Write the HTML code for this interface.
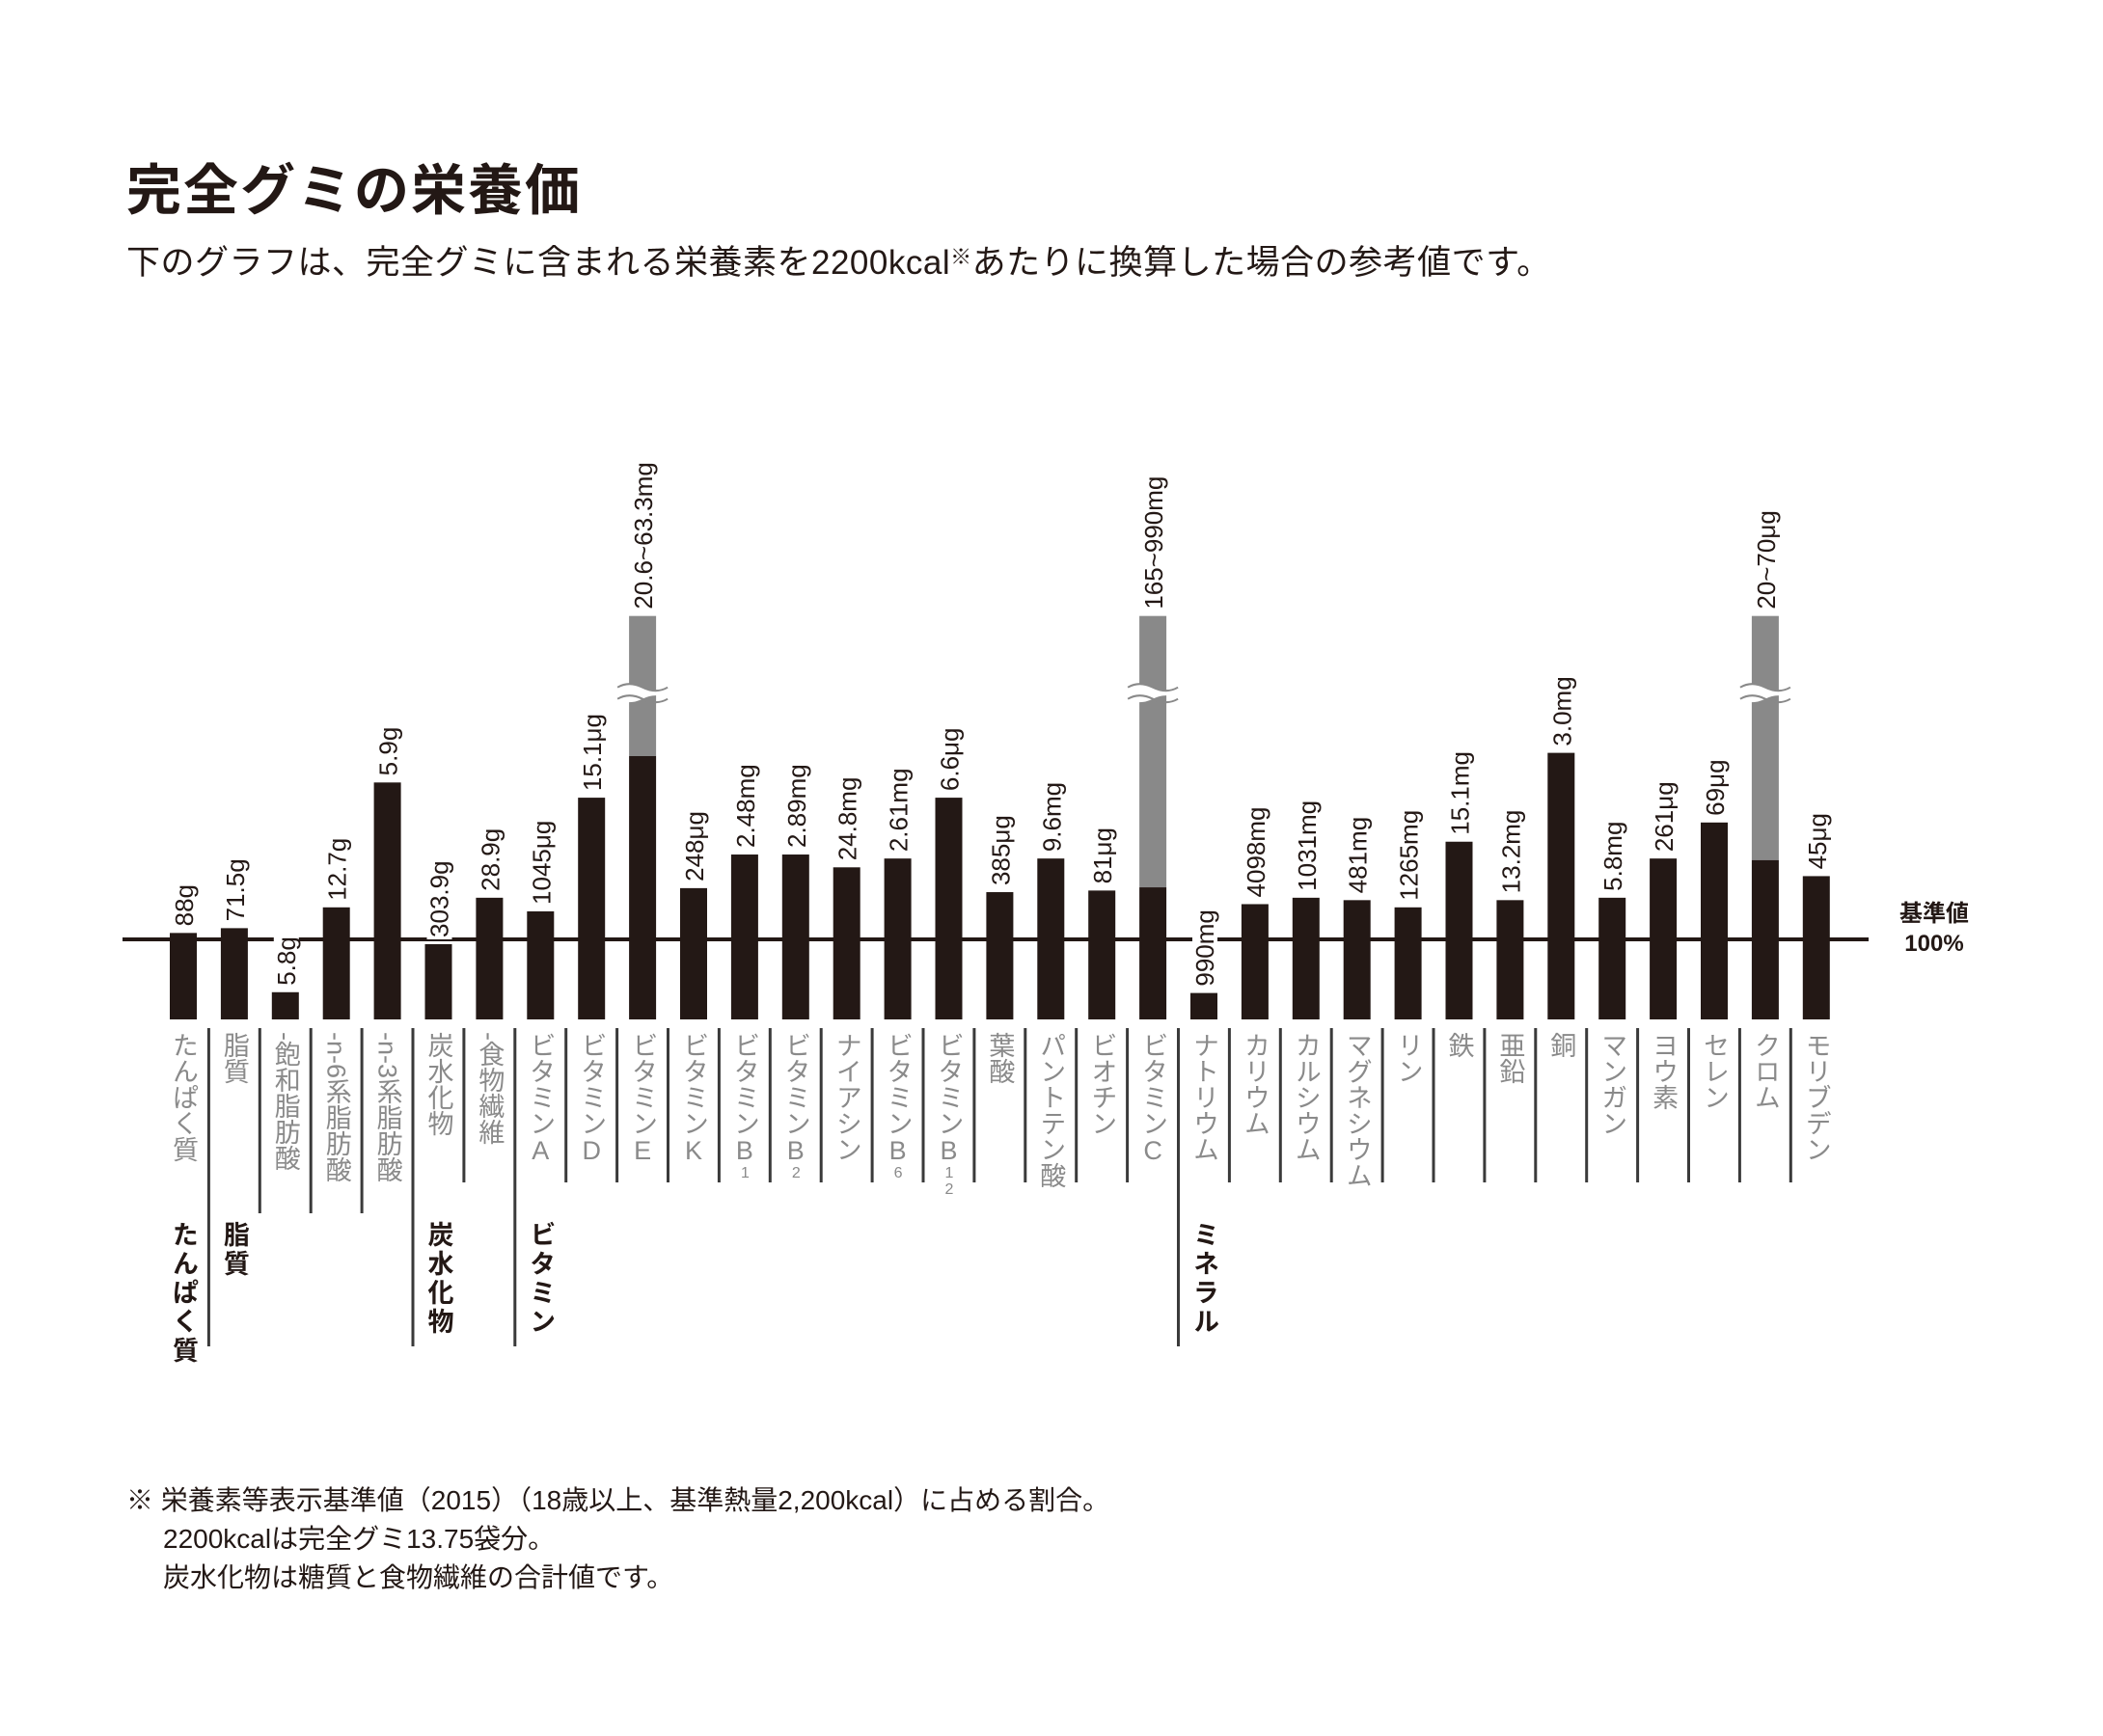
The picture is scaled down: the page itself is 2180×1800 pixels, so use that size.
<!DOCTYPE html>
<html><head><meta charset="utf-8">
<style>
html,body{margin:0;padding:0;background:#fff;}
#root{position:relative;width:2180px;height:1800px;overflow:hidden;background:#fff;font-family:"Liberation Sans","Noto Sans CJK JP",sans-serif;color:#231815;}
.title{position:absolute;left:131px;top:152px;font-size:57px;font-weight:bold;letter-spacing:2px;white-space:nowrap;}
.sub{position:absolute;left:131px;top:244px;font-size:35px;white-space:nowrap;letter-spacing:0.5px;}
.foot{position:absolute;left:131px;top:1536px;font-size:28px;line-height:40px;white-space:nowrap;}
.cat{position:absolute;writing-mode:vertical-rl;font-size:27px;color:#8a8a8a;line-height:28px;white-space:nowrap;}
.grp{position:absolute;writing-mode:vertical-rl;font-size:27px;font-weight:bold;color:#231815;letter-spacing:3px;line-height:28px;white-space:nowrap;}
.up{text-orientation:upright;}
.ref{position:absolute;left:1960px;top:932px;width:90px;text-align:center;font-size:24px;font-weight:bold;line-height:31px;}
</style></head>
<body>
<div id="root">
<div class="title">完全グミの栄養価</div>
<div class="sub">下のグラフは、完全グミに含まれる栄養素を2200kcal<span style="font-size:22px;vertical-align:10px">※</span>あたりに換算した場合の参考値です。</div>
<svg id="chart" width="2180" height="1800" style="position:absolute;left:0;top:0"></svg>
<div class="ref">基準値<br>100%</div>
<div class="foot">※ 栄養素等表示基準値（2015）（18歳以上、基準熱量2,200kcal）に占める割合。<br><span style="padding-left:38px">2200kcalは完全グミ13.75袋分。</span><br><span style="padding-left:38px">炭水化物は糖質と食物繊維の合計値です。</span></div>
</div>
<script>
const categories=["たんぱく質","脂質","-飽和脂肪酸","-n-6系脂肪酸","-n-3系脂肪酸","炭水化物","-食物繊維","ビタミンA","ビタミンD","ビタミンE","ビタミンK","ビタミンB","ビタミンB","ナイアシン","ビタミンB","ビタミンB","葉酸","パントテン酸","ビオチン","ビタミンC","ナトリウム","カリウム","カルシウム","マグネシウム","リン","鉄","亜鉛","銅","マンガン","ヨウ素","セレン","クロム","モリブデン"];
const subscripts=["","","","","","","","","","","","1","2","","6","12","","","","","","","","","","","","","","","","",""];
const valueLabels=["88g","71.5g","5.8g","12.7g","5.9g","303.9g","28.9g","1045μg","15.1μg","20.6~63.3mg","248μg","2.48mg","2.89mg","24.8mg","2.61mg","6.6μg","385μg","9.6mg","81μg","165~990mg","990mg","4098mg","1031mg","481mg","1265mg","15.1mg","13.2mg","3.0mg","5.8mg","261μg","69μg","20~70μg","45μg"];
const percentValues=[108,114,34,140,296,94,152,135,277,329,164,206,206,190,201,277,159,201,161,165,33,144,152,149,140,222,149,333,152,201,246,199,179];
const rangeUpper=[0,0,0,0,0,0,0,0,0,504,0,0,0,0,0,0,0,0,0,504,0,0,0,0,0,0,0,0,0,0,0,504,0];
const groupNames=["たんぱく質","脂質","炭水化物","ビタミン","ミネラル"];
const groupStart=[0,1,5,7,20];

const svg=document.getElementById('chart');
const NS='http://www.w3.org/2000/svg';
const root=document.getElementById('root');
const X0=176,PITCH=52.9,BW=28,Y0=1057,PX=83/100;
const xs=i=>X0+i*PITCH;
const ys=v=>Y0-v*PX;
function mk(t,a){const e=document.createElementNS(NS,t);for(const k in a)e.setAttribute(k,a[k]);svg.appendChild(e);return e;}

const base=mk('line',{x1:127,x2:1937,y1:ys(100),y2:ys(100),stroke:'#231815','stroke-width':4});



categories.forEach((c,i)=>{
  const x=xs(i);
  if(rangeUpper[i]>0){
    const g=mk('rect',{x:x,y:ys(rangeUpper[i]),width:BW,height:ys(percentValues[i])-ys(rangeUpper[i]),fill:'#898989'});
    
    
  }
  const b=mk('rect',{x:x,y:ys(percentValues[i]),width:BW,height:Y0-ys(percentValues[i]),fill:'#231815'});
  
  
  if(rangeUpper[i]>0){
    const by=ys(rangeUpper[i])+74;
    const band=mk('path',{d:`M${x-12} ${by} q12 -7 26 0 t26 0 v12 q-12 -7 -26 0 t-26 0 z`,fill:'#fff'});
    
    
    [0,12].forEach(o=>{
      const w=mk('path',{d:`M${x-12} ${by+o} q12 -7 26 0 t26 0`,fill:'none',stroke:'#898989','stroke-width':2});
      
      
    });
  }
  const top=rangeUpper[i]>0?ys(rangeUpper[i]):ys(percentValues[i]);
  const lx=x+BW/2+10, ly=top-7;
  const bg=mk('rect',{fill:'#fff'});
  
  
  const t=mk('text',{x:0,y:0,transform:`translate(${lx},${ly}) rotate(-90)`,'font-size':26,fill:'#231815','font-family':'"Liberation Sans","Noto Sans CJK JP",sans-serif'});
  t.textContent=valueLabels[i];
  
  
  const len=t.getComputedTextLength();
  bg.setAttribute('x',lx-22);bg.setAttribute('y',ly-len-2);bg.setAttribute('width',26);bg.setAttribute('height',len+4);

  const d=document.createElement('div');
  d.className='cat'+(c.indexOf('ビタミン')===0?' up':'');
  d.style.left=(x+BW/2-14)+'px';
  d.style.top='1070px';
  d.textContent=c;
  if(subscripts[i]){const s=document.createElement('span');s.style.fontSize='16px';s.textContent=subscripts[i];d.appendChild(s);}
  
  
  root.appendChild(d);

  if(i>0){
    const gs=groupStart.indexOf(i)>=0;
    const end=gs?1396:(i>=2&&i<=4?1258:1226);
    const sp=mk('line',{x1:x-12.5,x2:x-12.5,y1:1066,y2:end,stroke:'#3a3a3a','stroke-width':3});
    
    
  }
});
groupNames.forEach((g,k)=>{
  const d=document.createElement('div');
  d.className='grp';
  d.style.left=(xs(groupStart[k])+BW/2-14)+'px';
  d.style.top='1266px';
  d.textContent=g;
  
  
  root.appendChild(d);
});
</script>
</body></html>
